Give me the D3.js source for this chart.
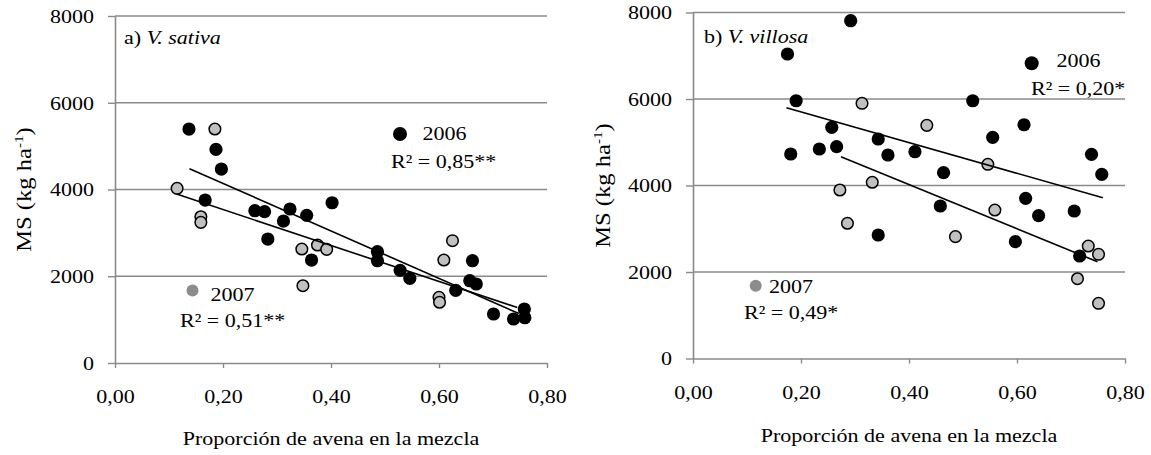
<!DOCTYPE html>
<html><head><meta charset="utf-8">
<script src="https://cdn.jsdelivr.net/npm/d3@7"></script>
<style>body{margin:0;background:#fff}svg{display:block}text{font-family:"Liberation Serif","Times New Roman",serif;fill:#000}</style>
</head><body><svg id="c" width="1151" height="455"></svg>
<script>
// ---- data ----
const xTicks = [0, 0.2, 0.4, 0.6, 0.8];
const xTickLabels = ["0,00", "0,20", "0,40", "0,60", "0,80"];
const yTicks = [0, 2000, 4000, 6000, 8000];
const yTickLabels = ["0", "2000", "4000", "6000", "8000"];

const sativa2006X = [0.137,0.187,0.197,0.167,0.259,0.277,0.324,0.355,0.312,0.283,0.364,0.402,0.486,0.486,0.528,0.546,0.631,0.662,0.657,0.669,0.701,0.738,0.758,0.759];
const sativa2006Y = [5394,4925,4472,3757,3511,3488,3550,3404,3273,2858,2374,3695,2566,2358,2136,1952,1675,2358,1897,1821,1130,1014,1245,1044];
const sativa2007X = [0.185,0.115,0.159,0.159,0.346,0.375,0.392,0.348,0.625,0.609,0.600,0.601];
const sativa2007Y = [5394,4027,3372,3243,2628,2720,2620,1782,2820,2374,1514,1400];
const sativaTrend2006 = [[0.138,4478],[0.748,1140]];
const sativaTrend2007 = [[0.114,3895],[0.745,1280]];

const villosa2006X = [0.292,0.175,0.191,0.257,0.343,0.181,0.234,0.266,0.361,0.343,0.411,0.518,0.613,0.555,0.738,0.757,0.464,0.616,0.640,0.706,0.458,0.597,0.716];
const villosa2006Y = [7810,7040,5960,5345,5075,4728,4844,4897,4705,2855,4781,5960,5405,5114,4721,4259,4296,3704,3302,3410,3526,2701,2370];
const villosa2007X = [0.313,0.272,0.332,0.286,0.433,0.546,0.559,0.486,0.732,0.751,0.712,0.751];
const villosa2007Y = [5900,3896,4074,3126,5391,4490,3433,2817,2601,2409,1845,1276];
const villosaTrend2006 = [[0.173,5798],[0.759,3718]];
const villosaTrend2007 = [[0.274,4666],[0.749,2238]];

const xTitle = "Proporción de avena en la mezcla";

// ---- drawing ----
const svg = d3.select("#c");
const SX = 1.16, FS = 19;
const GRID = "#8a8a8a";

function stretchedText(g, x, y, anchor) {
  return g.append("text").attr("transform", `translate(${x},${y}) scale(${SX},1)`)
    .attr("text-anchor", anchor || "start").style("font-size", FS + "px");
}

function panel(cfg) {
  const x = d3.scaleLinear().domain([0, 0.8]).range([cfg.x0, cfg.x1]);
  const y = d3.scaleLinear().domain([0, 8000]).range([cfg.y0, cfg.y1]);
  const g = svg.append("g");

  // grid
  g.selectAll(".grid").data(yTicks.slice(1)).join("line")
    .attr("x1", cfg.x0).attr("x2", cfg.x1)
    .attr("y1", d => y(d)).attr("y2", d => y(d))
    .attr("stroke", GRID).attr("stroke-width", 1.4);

  // y axis
  const ya = g.append("g").attr("transform", `translate(${cfg.x0},0)`)
    .call(d3.axisLeft(y).tickValues(yTicks).tickSize(7).tickSizeOuter(0).tickFormat((d, i) => yTickLabels[i]));
  ya.select(".domain").attr("stroke", GRID).attr("stroke-width", 1.6);
  ya.selectAll(".tick line").attr("stroke", GRID).attr("stroke-width", 1.4);
  ya.selectAll(".tick text").attr("x", null).attr("dy", "0.33em")
    .attr("transform", "translate(-21,0) scale(" + SX + ",1)")
    .style("font-size", FS + "px").style("font-family", '"Liberation Serif",serif').attr("fill", "#000");

  // x axis
  const xa = g.append("g").attr("transform", `translate(0,${cfg.y0})`)
    .call(d3.axisBottom(x).tickValues(xTicks).tickSize(5).tickSizeOuter(0).tickFormat((d, i) => xTickLabels[i]));
  xa.select(".domain").attr("stroke", GRID).attr("stroke-width", 1.6);
  xa.selectAll(".tick line").attr("stroke", GRID).attr("stroke-width", 1.4);
  xa.selectAll(".tick text").attr("y", null).attr("dy", null)
    .attr("transform", "translate(0,40) scale(" + SX + ",1)")
    .style("font-size", FS + "px").style("font-family", '"Liberation Serif",serif').attr("fill", "#000");

  // points
  const d06 = cfg.x06.map((v, i) => [v, cfg.y06[i]]);
  const d07 = cfg.x07.map((v, i) => [v, cfg.y07[i]]);
  g.selectAll(".p06").data(d06).join("circle")
    .attr("cx", d => x(d[0])).attr("cy", d => y(d[1])).attr("r", 6.6).attr("fill", "#000");
  g.selectAll(".p07").data(d07).join("circle")
    .attr("cx", d => x(d[0])).attr("cy", d => y(d[1])).attr("r", 5.8)
    .attr("fill", "#c0c0c0").attr("stroke", "#000").attr("stroke-width", 1.5);

  // trend lines
  const line = d3.line().x(d => x(d[0])).y(d => y(d[1]));
  [cfg.t06, cfg.t07].forEach(t => g.append("path").attr("d", line(t))
    .attr("stroke", "#000").attr("stroke-width", 1.6).attr("fill", "none"));

  // panel title
  const tt = stretchedText(g, cfg.title[0], cfg.title[1]);
  tt.append("tspan").text(cfg.title[2]);
  tt.append("tspan").style("font-style", "italic").text(cfg.title[3]);

  // legends
  g.append("circle").attr("cx", cfg.l06[0]).attr("cy", cfg.l06[1]).attr("r", 7).attr("fill", "#000");
  stretchedText(g, cfg.l06[2], cfg.l06[3]).text("2006");
  stretchedText(g, cfg.r06[0], cfg.r06[1]).text(cfg.r06[2]);
  g.append("circle").attr("cx", cfg.l07[0]).attr("cy", cfg.l07[1]).attr("r", 6).attr("fill", "#8c8c8c");
  stretchedText(g, cfg.l07[2], cfg.l07[3]).text("2007");
  stretchedText(g, cfg.r07[0], cfg.r07[1]).text(cfg.r07[2]);

  // axis titles
  stretchedText(g, (cfg.x0 + cfg.x1) / 2, cfg.xtY, "middle").text(xTitle);
  const yt = g.append("text")
    .attr("transform", `translate(${cfg.ytX},${(cfg.y0 + cfg.y1) / 2}) rotate(-90) scale(1.17,1)`)
    .attr("text-anchor", "middle").style("font-size", "21px");
  yt.append("tspan").text("MS (kg ha");
  yt.append("tspan").attr("dy", -8).style("font-size", "13px").text("-1");
  yt.append("tspan").attr("dy", 8).text(")");
}

panel({
  x0: 115, x1: 547, y0: 363, y1: 16,
  x06: sativa2006X, y06: sativa2006Y, x07: sativa2007X, y07: sativa2007Y,
  t06: sativaTrend2006, t07: sativaTrend2007,
  title: [124, 43.5, "a) ", "V. sativa"],
  l06: [400, 134, 422.5, 139.5], r06: [391, 168, "R² = 0,85**"],
  l07: [192.5, 290.5, 210.5, 300.5], r07: [180, 326.5, "R² = 0,51**"],
  xtY: 445, ytX: 31
});
panel({
  x0: 693, x1: 1125, y0: 358.5, y1: 12.5,
  x06: villosa2006X, y06: villosa2006Y, x07: villosa2007X, y07: villosa2007Y,
  t06: villosaTrend2006, t07: villosaTrend2007,
  title: [704, 43.3, "b) ", "V. villosa"],
  l06: [1031.7, 63.3, 1056.5, 66.7], r06: [1031, 95, "R² = 0,20*"],
  l07: [755.7, 285.7, 769, 292.7], r07: [744, 319, "R² = 0,49*"],
  xtY: 441.7, ytX: 610
});
</script></body></html>
